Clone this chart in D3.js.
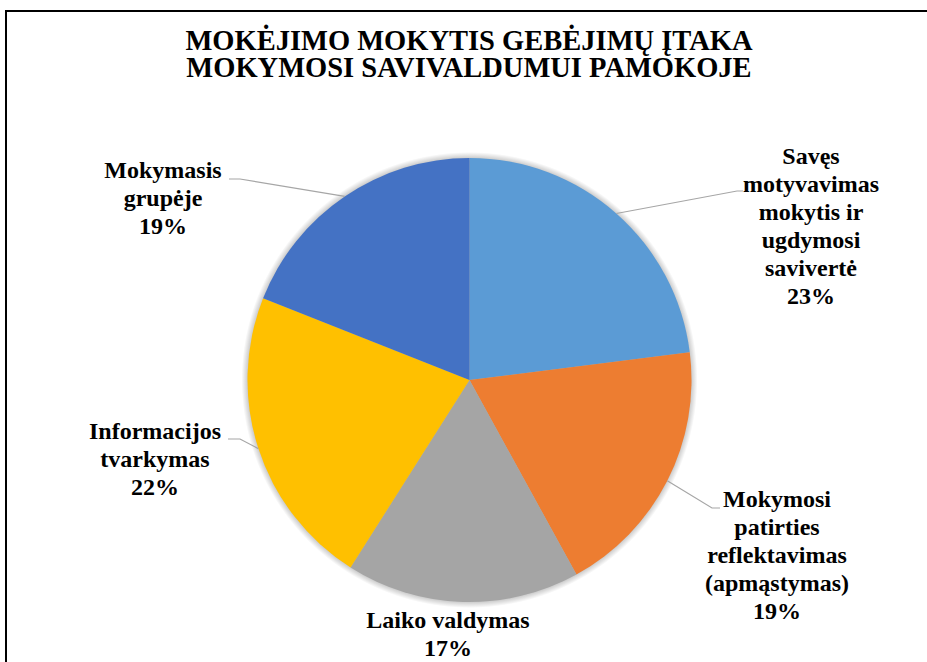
<!DOCTYPE html>
<html>
<head>
<meta charset="utf-8">
<script src="https://cdn.jsdelivr.net/npm/d3@7/dist/d3.min.js"></script>
</head>
<body style="margin:0">
<script>
// data
const titleLines = ["MOKĖJIMO MOKYTIS GEBĖJIMŲ ĮTAKA", "MOKYMOSI SAVIVALDUMUI PAMOKOJE"];
const categories = [
  ["Savęs", "motyvavimas", "mokytis ir", "ugdymosi", "savivertė"],
  ["Mokymosi", "patirties", "reflektavimas", "(apmąstymas)"],
  ["Laiko valdymas"],
  ["Informacijos", "tvarkymas"],
  ["Mokymasis", "grupėje"]
];
const values = [23, 19, 17, 22, 19];
const colors = ["#5b9bd5", "#ed7d31", "#a5a5a5", "#ffc000", "#4472c4"];

const W = 927, H = 662;
const cx = 469.5, cy = 380, radius = 222;
const lineH = 28;
const fontStack = "'Times New Roman', 'Nimbus Roman', Tinos, FreeSerif, 'Liberation Serif', 'DejaVu Serif', serif";

// label layout: centre x, first baseline, leader elbow and tick end (null = no leader)
const labelLayout = [
  {x: 811, y: 164, elbow: [737, 191], tick: [743, 191]},
  {x: 777, y: 507, elbow: [712, 508], tick: [720, 508]},
  {x: 448, y: 628, elbow: null},
  {x: 155, y: 439, elbow: [240, 439], tick: [228, 439]},
  {x: 163, y: 178, elbow: [240, 179], tick: [229, 179]}
];

var svg = d3.select("body").append("svg")
    .attr("width", W)
    .attr("height", H)
    .attr("font-family", fontStack)
    .attr("font-weight", "bold");

// soft halo round the pie, done with a radial gradient
var grad = svg.append("defs").append("radialGradient").attr("id", "halo");
grad.append("stop").attr("offset", "0.96").attr("stop-color", "#000").attr("stop-opacity", 0.3);
grad.append("stop").attr("offset", "1").attr("stop-color", "#000").attr("stop-opacity", 0);

// document frame
svg.append("path")
    .attr("d", "M6," + H + "V11H" + W)
    .attr("fill", "none")
    .attr("stroke", "#000")
    .attr("stroke-width", 2);

// title
svg.selectAll("text.title")
    .data(titleLines)
    .enter().append("text")
    .attr("class", "title")
    .attr("x", 469)
    .attr("y", function(d, i) { return 50 + i * 27; })
    .attr("text-anchor", "middle")
    .style("font-family", fontStack)
    .style("font-size", "28.5px")
    .style("font-weight", "bold")
    .text(function(d) { return d; });

var pie = d3.pie().sort(null).value(function(d) { return d; });
var arcs = pie(values);
var arc = d3.arc().innerRadius(0).outerRadius(radius);

var pieG = svg.append("g")
    .attr("transform", "translate(" + cx + "," + cy + ")");

pieG.append("circle")
    .attr("r", radius + 6)
    .attr("fill", "url(#halo)");

pieG.selectAll("path.slice")
    .data(arcs)
    .enter().append("path")
    .attr("class", "slice")
    .attr("d", arc)
    .attr("fill", function(d, i) { return colors[i]; });

// leader lines start on the arc at the slice's mid angle
function edgePoint(d) {
    var a = (d.startAngle + d.endAngle) / 2;
    return [cx + radius * Math.sin(a), cy - radius * Math.cos(a)];
}

svg.selectAll("path.leader")
    .data(arcs.filter(function(d, i) { return labelLayout[i].elbow; }))
    .enter().append("path")
    .attr("class", "leader")
    .attr("d", function(d) {
        var L = labelLayout[d.index];
        return d3.line()([edgePoint(d), L.elbow, L.tick]);
    })
    .attr("fill", "none")
    .attr("stroke", "#a6a6a6")
    .attr("stroke-width", 1.2);

// labels, one text per line
arcs.forEach(function(d, i) {
    var L = labelLayout[i];
    var lines = categories[i].concat([values[i] + "%"]);
    svg.selectAll("text.label" + i)
        .data(lines)
        .enter().append("text")
        .attr("class", "label" + i)
        .attr("x", L.x)
        .attr("y", function(t, j) { return L.y + j * lineH; })
        .attr("text-anchor", "middle")
        .style("font-family", fontStack)
        .style("font-size", "24px")
        .style("font-weight", "bold")
        .text(function(t) { return t; });
});
</script>
</body>
</html>
